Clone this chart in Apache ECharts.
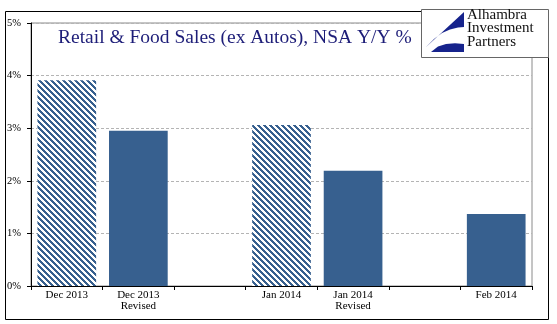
<!DOCTYPE html>
<html>
<head>
<meta charset="utf-8">
<script src="https://cdn.jsdelivr.net/npm/echarts@6/dist/echarts.min.js"></script>
<style>
  html, body { margin: 0; padding: 0; background: #fff; }
  #chart { width: 557px; height: 324px; }
</style>
</head>
<body>
<div id="chart"></div>
<script>
// ---- data ----
var categories = ['Dec 2013', 'Dec 2013\nRevised', '', 'Jan 2014', 'Jan 2014\nRevised', '', 'Feb 2014'];
var initialValues = [3.91, null, null, 3.06, null, null, null];   // hatched (first estimate)
var revisedValues = [null, 2.95, null, null, 2.19, null, 1.37];   // solid
var yTicks = [0, 1, 2, 3, 4, 5];
var titleText = 'Retail & Food Sales (ex Autos), NSA Y/Y %';
var logoLines = ['Alhambra', 'Investment', 'Partners'];

var barColor = '#37608f';

// hatch pattern
function makeHatch() {
  var c = document.createElement('canvas');
  var n = 6;
  c.width = n; c.height = n;
  var ctx = c.getContext('2d');
  var img = ctx.createImageData(n, n);
  for (var y = 0; y < n; y++) {
    for (var x = 0; x < n; x++) {
      var d = (((x - y) % n) + n) % n;
      var i = (y * n + x) * 4;
      if (d < 3) { img.data[i] = 0x37; img.data[i+1] = 0x60; img.data[i+2] = 0x8f; }
      else { img.data[i] = 255; img.data[i+1] = 255; img.data[i+2] = 255; }
      img.data[i+3] = 255;
    }
  }
  ctx.putImageData(img, 0, 0);
  return c;
}

var chart = echarts.init(document.getElementById('chart'), null, { renderer: 'canvas' });

var serif = '"Liberation Serif", "Times New Roman", serif';

var option = {
  animation: false,
  backgroundColor: '#ffffff',
  grid: {
    left: 31, right: 25, top: 23, bottom: 38,
    show: true, borderColor: '#8a8a8a', borderWidth: 1, backgroundColor: 'transparent'
  },
  xAxis: {
    type: 'category',
    data: categories,
    boundaryGap: true,
    axisLine: { lineStyle: { color: '#000', width: 1 } },
    axisTick: { show: true, interval: 0, length: 4, lineStyle: { color: '#000' } },
    axisLabel: {
      interval: 0, margin: 4, color: '#000',
      fontFamily: serif, fontSize: 11, lineHeight: 11
    }
  },
  yAxis: {
    type: 'value',
    min: yTicks[0], max: yTicks[yTicks.length - 1], interval: 1,
    axisLine: { show: true, lineStyle: { color: '#000', width: 1 } },
    axisTick: { show: true, length: 4, lineStyle: { color: '#000' } },
    axisLabel: {
      formatter: '{value}%', color: '#000', margin: 10,
      fontFamily: serif, fontSize: 10.5
    },
    splitLine: { show: true, lineStyle: { color: '#b4b4b4', type: [3, 2], width: 1 } }
  },
  series: [
    {
      name: 'Initial', type: 'bar', data: initialValues,
      barCategoryGap: '18%', barGap: '-100%',
      itemStyle: { color: { image: makeHatch(), repeat: 'repeat' } }
    },
    {
      name: 'Revised', type: 'bar', data: revisedValues,
      barCategoryGap: '18%', barGap: '-100%',
      itemStyle: { color: barColor }
    }
  ],
  graphic: [
    // outer border
    { type: 'rect', shape: { x: 5.5, y: 11.5, width: 543, height: 308 },
      style: { fill: 'none', stroke: '#000', lineWidth: 1 }, z: 100 },
    // title
    { type: 'text', x: 58, y: 28,
      style: { text: titleText, font: '19.5px ' + serif, fill: '#1d1d78' }, z: 100 },
    // logo box
    { type: 'rect', shape: { x: 421.5, y: 9.5, width: 127, height: 48 },
      style: { fill: '#fff', stroke: '#666', lineWidth: 1 }, z: 100 },
    { type: 'polygon', shape: { points: [[464,12],[464,27],[458,27.6],[450,29.5],[442,33],[434,39],[425,48]] },
      style: { fill: '#16238c' }, z: 101 },
    { type: 'polygon', shape: { points: [[431,52],[438,46.5],[446,44],[455,43.3],[464,44],[464,52]] },
      style: { fill: '#16238c' }, z: 101 },
    { type: 'text', x: 467, y: 8,
      style: { text: logoLines.join('\n'), font: '15px ' + serif, lineHeight: 13.5, fill: '#111' }, z: 101 }
  ]
};

chart.setOption(option);
</script>
</body>
</html>
